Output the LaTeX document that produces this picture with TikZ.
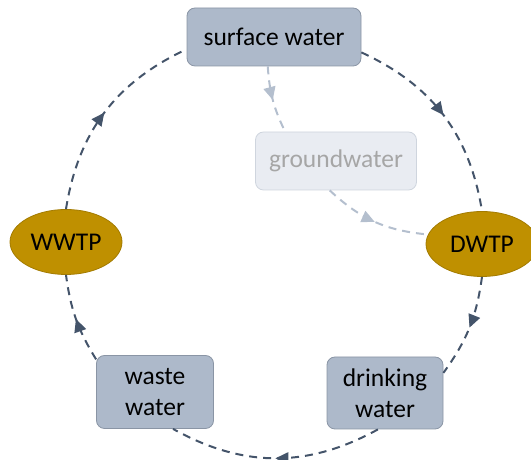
\documentclass[tikz,border=0pt]{standalone}
\usepackage{fontspec}
\setmainfont{Carlito}
\usetikzlibrary{shapes.geometric,arrows.meta,decorations.markings}
\definecolor{flow}{HTML}{44546A}
\definecolor{boxfill}{HTML}{ADB9CA}
\definecolor{boxline}{HTML}{8A95A5}
\definecolor{gwfill}{HTML}{E9ECF2}
\definecolor{gwline}{HTML}{CFD5DE}
\definecolor{gwtext}{HTML}{A6A6A6}
\definecolor{gwflow}{HTML}{B4BFCE}
\definecolor{goldfill}{HTML}{BF9000}
\definecolor{goldline}{HTML}{A37B00}
\tikzset{
  water/.style={draw=boxline, fill=boxfill, rounded corners=8pt, line width=0.8pt,
    inner sep=0pt, align=center, font=\fontsize{25.5}{31}\selectfont},
  ground/.style={water, draw=gwline, fill=gwfill, text=gwtext},
  plant/.style={ellipse, draw=goldline, fill=goldfill, line width=0.8pt, inner sep=0pt,
    minimum width=112pt, minimum height=65pt, font=\fontsize{25.5}{31}\selectfont},
  cyc/.style={draw=#1, line width=2pt, dash pattern=on 8pt off 6pt,
    postaction={decorate},
    decoration={markings, mark=at position 0.5 with {\arrow[#1]{Triangle[length=13pt,width=12pt]}}}},
  cyc/.default=flow,
}

\begin{document}
\begin{tikzpicture}[x=1pt,y=1pt]
  \useasboundingbox (0,0) rectangle (531,460);
  % nodes
  \node[water, minimum width=174pt, minimum height=58pt] (sw) at (274,423) {surface water};
  \node[ground, minimum width=161pt, minimum height=58pt] (gw) at (336,299) {groundwater};
  \node[plant] (wwtp) at (66,218) {WWTP};
  \node[plant] (dwtp) at (482,216) {DWTP};
  \node[water, minimum width=117pt, minimum height=73pt] (ww) at (155,68) {waste\\water};
  \node[water, minimum width=116pt, minimum height=72pt] (dw) at (385,67) {drinking\\water};
  % the cycle
  \draw[cyc] (sw.-10) to[bend left=28] (dwtp.north);
  \draw[cyc] (dwtp.south) to[bend left=14] (dw.19);
  \draw[cyc] (dw.259) to[bend left=29] (ww.296);
  \draw[cyc] (ww.151) to[bend left=12] (wwtp.south);
  \draw[cyc] (wwtp.north) to[bend left=28] (sw.188);
  % groundwater branch
  \draw[cyc=gwflow] (sw.258) to[bend right=11] (gw.150);
  \draw[cyc=gwflow] (gw.258) to[bend right=19] (dwtp.170);
\end{tikzpicture}
\end{document}
